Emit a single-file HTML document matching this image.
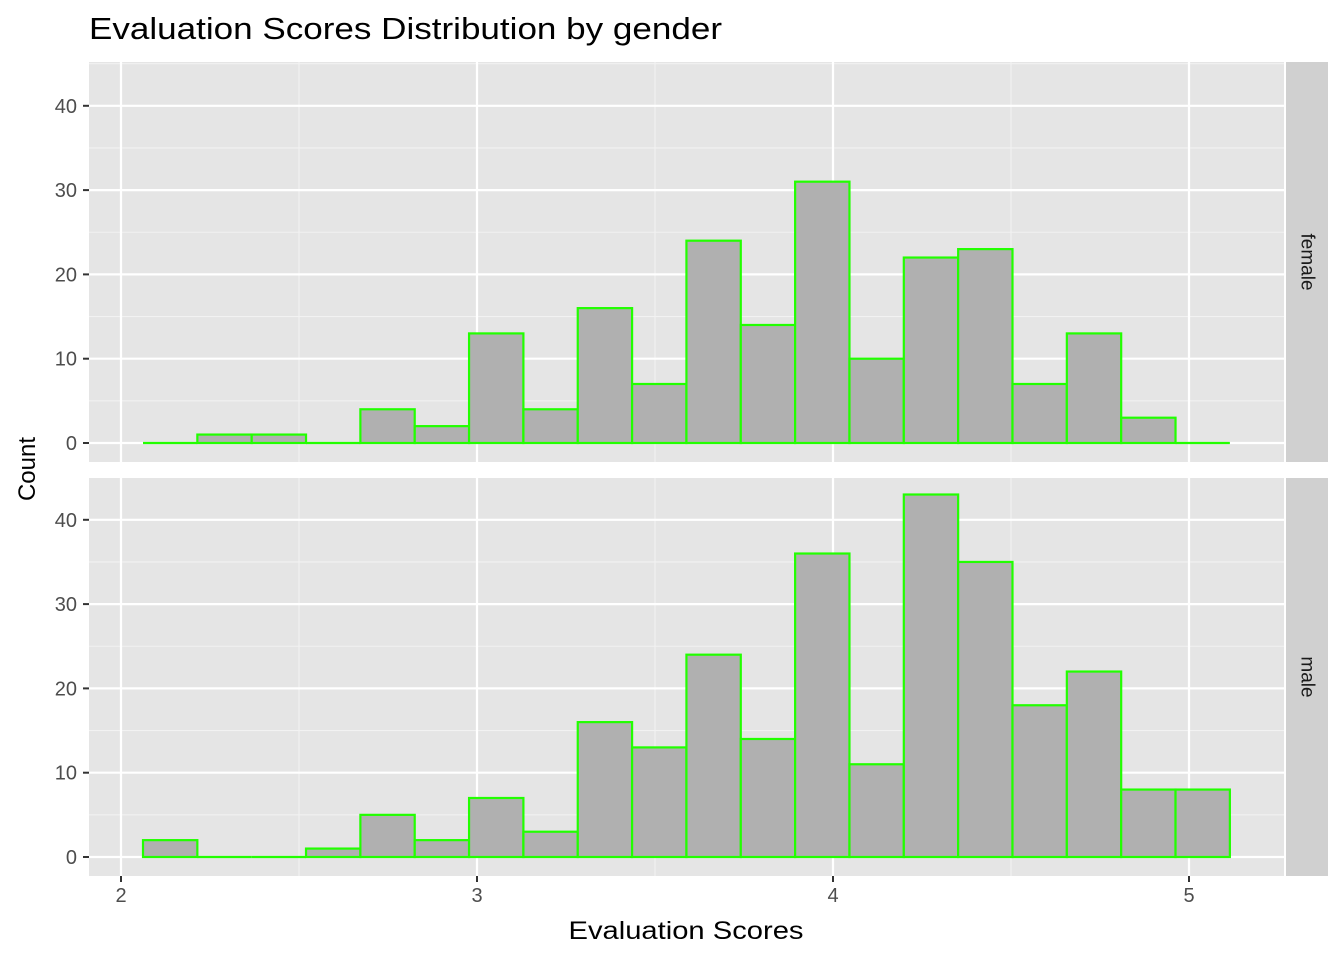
<!DOCTYPE html>
<html><head><meta charset="utf-8"><style>body{margin:0;background:#fff}svg{display:block;font-family:"Liberation Sans",Arial,sans-serif}</style></head>
<body>
<svg id="c" width="1344" height="960"></svg>
<script>
const binStart = 2.0618;
const binWidth = 0.15265;
const femaleCounts = [0,1,1,0,4,2,13,4,16,7,24,14,31,10,22,23,7,13,3,0];
const maleCounts = [2,0,0,1,5,2,7,3,16,13,24,14,36,11,43,35,18,22,8,8];
const xTicks = [2,3,4,5];
const yTicks = [0,10,20,30,40];
const facets = ["female","male"];

const svg = document.getElementById('c');
const NS = 'http://www.w3.org/2000/svg';
function el(t, a, txt){const e=document.createElementNS(NS,t);for(const k in a)e.setAttribute(k,a[k]);if(txt!=null)e.textContent=txt;svg.appendChild(e);return e;}
const px0=89, px1=1284;
const xs = v => 121 + (v-2)*356;
const panels = [{top:62,bot:462,zero:443,data:femaleCounts},{top:478,bot:876,zero:857,data:maleCounts}];
const ys = (p,v) => p.zero - v*8.43;

let t = el('text',{x:89,y:39,'font-size':31,fill:'#000',textLength:633,lengthAdjust:'spacingAndGlyphs'},'Evaluation Scores Distribution by gender');



panels.forEach((p,i)=>{
  let bg = el('rect',{x:px0,y:p.top,width:px1-px0,height:p.bot-p.top,fill:'#e5e5e5'});
  
  
  for(let v=5;v<=45;v+=10){ if(ys(p,v)>p.top) el('line',{x1:px0,x2:px1,y1:ys(p,v),y2:ys(p,v),stroke:'#f2f2f2','stroke-width':1.1}); }
  for(let v=2.5;v<=5;v+=1){ el('line',{x1:xs(v),x2:xs(v),y1:p.top,y2:p.bot,stroke:'#f2f2f2','stroke-width':1.1}); }
  yTicks.forEach(v=>{
    el('line',{x1:px0,x2:px1,y1:ys(p,v),y2:ys(p,v),stroke:'#fff','stroke-width':2.2});
    el('line',{x1:83,x2:89,y1:ys(p,v),y2:ys(p,v),stroke:'#333','stroke-width':2});
    let l = el('text',{x:77,y:ys(p,v)+7,'font-size':20,fill:'#4d4d4d','text-anchor':'end'},String(v));
    
    
  });
  xTicks.forEach(v=>el('line',{x1:xs(v),x2:xs(v),y1:p.top,y2:p.bot,stroke:'#fff','stroke-width':2.2}));
  p.data.forEach((c,j)=>{
    const x0 = xs(binStart + j*binWidth), x1 = xs(binStart+(j+1)*binWidth);
    let r;
    if (c===0) {
      r = el('line',{x1:x0,x2:x1,y1:p.zero,y2:p.zero,stroke:'#22ff00','stroke-width':2.2});
    } else {
      r = el('rect',{x:x0,y:ys(p,c),width:x1-x0,height:p.zero-ys(p,c),fill:'#b0b0b0',stroke:'#22ff00','stroke-width':2.2});
    }
    
    
  });
  let s = el('rect',{x:1286,y:p.top,width:42,height:p.bot-p.top,fill:'#d0d0d0'});
  
  
  const cy=(p.top+p.bot)/2;
  let st = el('text',{x:1307,y:cy,'font-size':19,fill:'#1a1a1a','text-anchor':'middle',transform:`rotate(90 1307 ${cy})`,'dominant-baseline':'central'},facets[i]);
  
  
});
xTicks.forEach(v=>{
  el('line',{x1:xs(v),x2:xs(v),y1:876,y2:882,stroke:'#333','stroke-width':2});
  let l = el('text',{x:xs(v),y:902,'font-size':20,fill:'#4d4d4d','text-anchor':'middle'},String(v));
  
  
});
let xt = el('text',{x:686,y:939,'font-size':25,fill:'#000','text-anchor':'middle',textLength:235,lengthAdjust:'spacingAndGlyphs'},'Evaluation Scores');


let yt = el('text',{x:35,y:469,'font-size':24,fill:'#000','text-anchor':'middle',transform:'rotate(-90 35 469)'},'Count');


</script>
</body></html>
